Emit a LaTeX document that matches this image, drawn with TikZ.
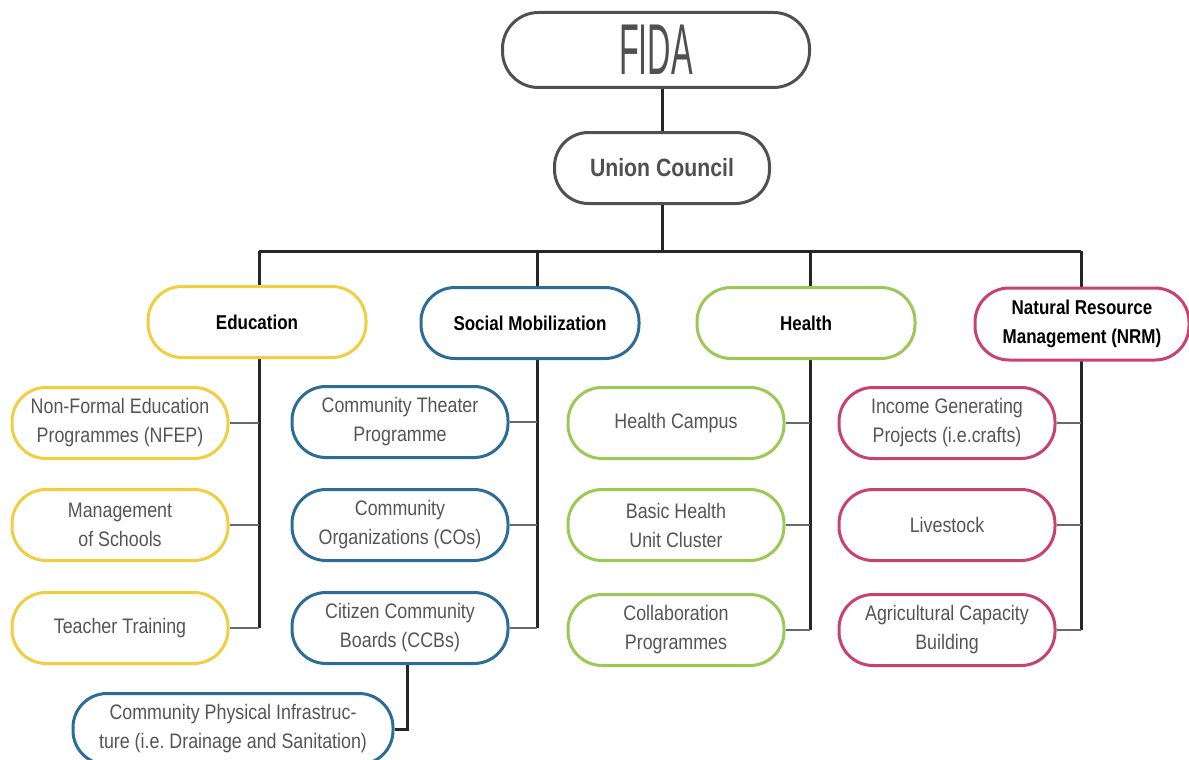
\documentclass[tikz,border=0pt]{standalone}
\usepackage{fontspec}
\setmainfont{Liberation Sans}[FakeStretch=0.85]
\newfontfamily\fidafont{Liberation Sans}[FakeStretch=0.45]
\usetikzlibrary{backgrounds}

\definecolor{eduyellow}{RGB}{240,206,64}
\definecolor{socblue}{RGB}{46,108,152}
\definecolor{healthgreen}{RGB}{156,200,86}
\definecolor{nrmpink}{RGB}{200,66,110}
\definecolor{topgray}{RGB}{80,80,80}
\definecolor{itemgray}{RGB}{85,85,85}
\definecolor{stubgray}{RGB}{105,105,105}

\tikzset{every picture/.style={line width=3pt}}
\tikzset{
  pill/.style={draw, fill=white, line width=3pt, rounded corners=34pt, minimum width=218pt, minimum height=71pt, inner sep=0pt, align=center},
  headpill/.style={pill, font=\fontsize{20}{29}\selectfont\bfseries, text=black},
  itempill/.style={pill, minimum width=216pt, font=\fontsize{21}{29}\selectfont, text=itemgray},
  trunk/.style={line width=3pt, draw=black!85},
  stub/.style={line width=2pt, draw=stubgray}
}

\begin{document}
\begin{tikzpicture}[x=1pt,y=1pt,yscale=-1]
	\useasboundingbox (0,0) rectangle (1189,760);

	%Rounded Rect: top
	\node [pill, draw=topgray, minimum width=307pt, minimum height=75pt, rounded corners=36pt, text=topgray, font=\fidafont\fontsize{72}{72}\selectfont] (fida) at (656,50) {FIDA};
	\node [pill, draw=topgray, minimum width=215pt, text=topgray, font=\fontsize{25}{30}\selectfont\bfseries] (uc) at (662,168) {Union Council};

	%Rounded Rect: heads
	\node [headpill, draw=eduyellow] (edu) at (257,322) {Education};
	\node [headpill, draw=socblue] (soc) at (530,323) {Social Mobilization};
	\node [headpill, draw=healthgreen] (hlth) at (806,323) {Health};
	\node [headpill, draw=nrmpink, minimum width=214pt, minimum height=72pt] (nrm) at (1082,324) {Natural Resource\\Management (NRM)};

	%Rounded Rect: education
	\node [itempill, draw=eduyellow] (nfep) at (120,423) {Non-Formal Education\\Programmes (NFEP)};
	\node [itempill, draw=eduyellow] (mgmt) at (120,525) {Management\\of Schools};
	\node [itempill, draw=eduyellow] (teach) at (120,628) {Teacher Training};

	%Rounded Rect: social mobilization
	\node [itempill, draw=socblue] (theater) at (400,422) {Community Theater\\Programme};
	\node [itempill, draw=socblue] (cos) at (400,525) {Community\\Organizations (COs)};
	\node [itempill, draw=socblue] (ccb) at (400,628) {Citizen Community\\Boards (CCBs)};
	\node [itempill, draw=socblue, minimum width=320pt] (cpi) at (233,729) {Community Physical Infrastruc-\\ture (i.e.\ Drainage and Sanitation)};

	%Rounded Rect: health
	\node [itempill, draw=healthgreen] (campus) at (676,423) {Health Campus};
	\node [itempill, draw=healthgreen] (bhu) at (676,525) {Basic Health\\Unit Cluster};
	\node [itempill, draw=healthgreen] (collab) at (676,630) {Collaboration\\Programmes};

	%Rounded Rect: nrm
	\node [itempill, draw=nrmpink] (igp) at (947,423) {Income Generating\\Projects (i.e.crafts)};
	\node [itempill, draw=nrmpink] (live) at (947,525) {Livestock};
	\node [itempill, draw=nrmpink] (agri) at (947,630) {Agricultural Capacity\\Building};

	%Straight Lines
	\coordinate (eduX) at (259,251);
	\coordinate (socX) at (537,251);
	\coordinate (hlthX) at (810,251);
	\coordinate (nrmX) at (1081,251);
	\coordinate (cpiX) at (407,729);

	\begin{scope}[on background layer]
		\draw [trunk] (fida.south -| uc) -- (uc.north);
		\draw [trunk] (uc.south) -- (uc.south |- eduX);
		\draw [trunk] (eduX) -- (nrmX);
		\draw [trunk] (eduX) -- (teach.east -| eduX);
		\draw [trunk] (socX) -- (ccb.east -| socX);
		\draw [trunk] (hlthX) -- (collab.east -| hlthX);
		\draw [trunk] (nrmX) -- (agri.east -| nrmX);
		\draw [trunk] (ccb.south -| cpiX) |- (cpi.east);
		\foreach \item/\col in {nfep/eduX, mgmt/eduX, teach/eduX, theater/socX, cos/socX, ccb/socX, campus/hlthX, bhu/hlthX, collab/hlthX, igp/nrmX, live/nrmX, agri/nrmX}
			\draw [stub] (\item.east) -- (\item.east -| \col);
	\end{scope}

\end{tikzpicture}
\end{document}
